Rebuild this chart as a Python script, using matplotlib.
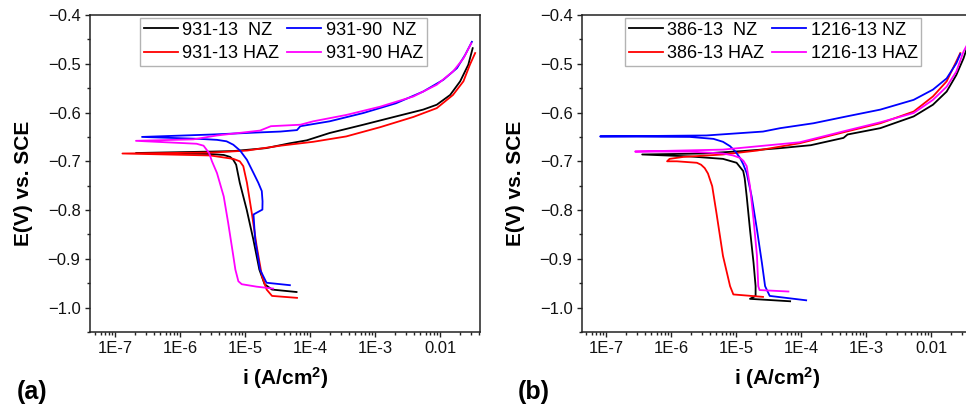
import matplotlib
matplotlib.use("Agg")
import matplotlib.pyplot as plt
from matplotlib.ticker import FixedLocator, LogLocator, NullFormatter, MultipleLocator

plt.rcParams['font.family'] = ['Liberation Sans', 'DejaVu Sans']
plt.rcParams['mathtext.default'] = 'regular'

# ---- Panel (a): alloy 931, nugget zone / heat-affected zone ----
# each curve runs from the cathodic end, through the corrosion potential, to the anodic end
i_931_13_nz = [6.2e-5, 2.6e-5, 2.0e-5, 1.66e-5, 1.34e-5, 1.06e-5, 8.3e-6, 7.3e-6, 6.6e-6, 5.9e-6, 4.7e-6, 2.9e-6, 2.1e-7,
               3.2e-6, 6.6e-6, 2.1e-5, 4.9e-5, 8.9e-5, 2.0e-4, 6.6e-4, 2.1e-3, 5.5e-3, 8.9e-3, 0.0143, 0.0204, 0.0272, 0.0318]
e_931_13_nz = [-0.968, -0.963, -0.952, -0.922, -0.860, -0.799, -0.744, -0.707, -0.697, -0.691, -0.687, -0.685, -0.683,
               -0.680, -0.679, -0.673, -0.663, -0.657, -0.642, -0.625, -0.608, -0.594, -0.584, -0.564, -0.536, -0.502, -0.468]

i_931_13_haz = [6.3e-5, 2.6e-5, 2.15e-5, 1.82e-5, 1.51e-5, 1.27e-5, 1.07e-5, 9.4e-6, 8.3e-6, 6.6e-6, 2.9e-6, 1.3e-7,
                3.2e-6, 1.07e-5, 3.5e-5, 1.12e-4, 3.6e-4, 1.2e-3, 3.9e-3, 8.9e-3, 0.0158, 0.0229, 0.0288, 0.0347]
e_931_13_haz = [-0.980, -0.976, -0.963, -0.935, -0.874, -0.806, -0.744, -0.710, -0.700, -0.695, -0.688, -0.684,
                -0.682, -0.678, -0.668, -0.660, -0.649, -0.630, -0.609, -0.591, -0.564, -0.536, -0.502, -0.478]

i_931_90_nz = [4.9e-5, 2.14e-5, 1.7e-5, 1.43e-5, 1.35e-5, 1.85e-5, 1.86e-5, 1.81e-5, 1.6e-5, 1.35e-5, 1.07e-5, 8.4e-6,
               6.6e-6, 5.2e-6, 3.7e-6, 2.0e-6, 2.6e-7,
               3.2e-6, 1.5e-5, 3.5e-5, 6.3e-5, 7.1e-5, 2.0e-4, 6.6e-4, 2.1e-3, 5.5e-3, 0.0112, 0.0182, 0.0243, 0.0309]
e_931_90_nz = [-0.954, -0.949, -0.922, -0.860, -0.809, -0.799, -0.782, -0.761, -0.744, -0.724, -0.697, -0.678,
               -0.666, -0.659, -0.656, -0.654, -0.650,
               -0.645, -0.641, -0.639, -0.636, -0.628, -0.618, -0.601, -0.581, -0.557, -0.533, -0.509, -0.482, -0.455]

i_931_90_haz = [2.7e-5, 1.5e-5, 8.9e-6, 7.9e-6, 7.1e-6, 6.6e-6, 5.5e-6, 4.7e-6, 3.7e-6, 3.1e-6, 2.8e-6, 2.3e-6, 1.8e-6, 2.1e-7,
                1.6e-6, 3.7e-6, 1.7e-5, 2.5e-5, 7.1e-5, 1.12e-4, 3.6e-4, 1.2e-3, 3.9e-3, 8.9e-3, 0.0158, 0.0229, 0.0302]
e_931_90_haz = [-0.961, -0.957, -0.952, -0.946, -0.922, -0.894, -0.826, -0.772, -0.724, -0.700, -0.683, -0.668, -0.664, -0.658,
                -0.655, -0.647, -0.637, -0.628, -0.625, -0.618, -0.605, -0.588, -0.567, -0.543, -0.516, -0.489, -0.458]

# ---- Panel (b): alloys 386 and 1216 ----
i_386_13_nz = [6.8e-5, 1.64e-5, 2.0e-5, 2.0e-5, 1.86e-5, 1.64e-5, 1.46e-5, 1.36e-5, 1.29e-5, 1.02e-5, 6.3e-6, 1.95e-6, 3.6e-7,
               3.2e-6, 1.26e-5, 4.8e-5, 1.41e-4, 4.5e-4, 5.2e-4, 1.66e-3, 5.4e-3, 0.0107, 0.0174, 0.0245, 0.0316, 0.0363]
e_386_13_nz = [-0.987, -0.982, -0.976, -0.956, -0.908, -0.840, -0.772, -0.735, -0.720, -0.703, -0.695, -0.690, -0.686,
               -0.684, -0.679, -0.673, -0.667, -0.652, -0.645, -0.632, -0.608, -0.584, -0.557, -0.523, -0.489, -0.465]

i_386_13_haz = [2.6e-5, 9.1e-6, 8.1e-6, 6.3e-6, 5.0e-6, 4.3e-6, 3.7e-6, 3.3e-6, 2.9e-6, 2.5e-6, 1.23e-6, 8.7e-7,
                9.5e-7, 1.55e-6, 6.3e-6, 2.1e-5, 9.5e-5, 1.55e-4, 5.0e-4, 1.66e-3, 5.4e-3, 0.0107, 0.0174, 0.0245, 0.0282]
e_386_13_haz = [-0.978, -0.973, -0.956, -0.894, -0.806, -0.751, -0.725, -0.714, -0.707, -0.703, -0.700, -0.700,
                -0.695, -0.691, -0.686, -0.678, -0.663, -0.656, -0.639, -0.622, -0.598, -0.567, -0.536, -0.495, -0.478]

i_1216_13_nz = [1.2e-4, 3.3e-5, 2.8e-5, 2.5e-5, 2.1e-5, 1.74e-5, 1.46e-5, 1.29e-5, 1.15e-5, 9.8e-6, 8.1e-6, 6.3e-6, 4.5e-6,
                1.95e-6, 8.1e-8,
                3.5e-6, 2.6e-5, 4.8e-5, 1.55e-4, 5.0e-4, 1.66e-3, 5.4e-3, 0.0107, 0.0174, 0.0245, 0.0282]
e_1216_13_nz = [-0.985, -0.976, -0.956, -0.908, -0.840, -0.772, -0.724, -0.706, -0.693, -0.680, -0.669, -0.660, -0.654,
                -0.650, -0.649,
                -0.647, -0.639, -0.632, -0.622, -0.608, -0.594, -0.574, -0.553, -0.530, -0.499, -0.480]

i_1216_13_haz = [6.4e-5, 2.3e-5, 2.2e-5, 2.1e-5, 1.86e-5, 1.64e-5, 1.52e-5, 1.46e-5, 1.3e-5, 1.15e-5, 9.0e-6, 6.3e-6,
                 1.95e-6, 2.8e-7,
                 6.3e-6, 9.5e-5, 1.55e-4, 5.0e-4, 1.66e-3, 5.4e-3, 0.0107, 0.0174, 0.0245, 0.0316, 0.0363]
e_1216_13_haz = [-0.967, -0.964, -0.956, -0.894, -0.819, -0.751, -0.725, -0.710, -0.699, -0.693, -0.688, -0.684,
                 -0.680, -0.680,
                 -0.676, -0.661, -0.654, -0.637, -0.620, -0.601, -0.574, -0.547, -0.516, -0.475, -0.460]

labels_a = ['931-13  NZ', '931-13 HAZ', '931-90  NZ', '931-90 HAZ']
labels_b = ['386-13  NZ', '386-13 HAZ', '1216-13 NZ', '1216-13 HAZ']
colors = ['#000000', '#ff0000', '#0000ff', '#ff00ff']

x_ticks = [1e-7, 1e-6, 1e-5, 1e-4, 1e-3, 1e-2]
x_tick_labels = ['1E-7', '1E-6', '1E-5', '1E-4', '1E-3', '0.01']
y_ticks = [-0.4, -0.5, -0.6, -0.7, -0.8, -0.9, -1.0]
y_tick_labels = ['\u22120.4', '\u22120.5', '\u22120.6', '\u22120.7', '\u22120.8', '\u22120.9', '\u22121.0']

fig = plt.figure(figsize=(9.66, 4.12), dpi=100)
fig.patch.set_facecolor('white')

W, H = 966.0, 412.0
ax_w = 390 / W
ax_b = (H - 332) / H
ax_h = 317 / H
ax_a = fig.add_axes([90 / W, ax_b, ax_w, ax_h])
ax_bb = fig.add_axes([582 / W, ax_b, ax_w, ax_h])


def style_axes(ax, xlim):
    ax.set_xscale('log')
    ax.set_xlim(*xlim)
    ax.set_ylim(-1.05, -0.4)
    ax.xaxis.set_major_locator(FixedLocator(x_ticks))
    ax.set_xticklabels(x_tick_labels)
    ax.xaxis.set_minor_locator(LogLocator(base=10, subs=range(2, 10), numticks=20))
    ax.xaxis.set_minor_formatter(NullFormatter())
    ax.yaxis.set_major_locator(FixedLocator(y_ticks))
    ax.set_yticklabels(y_tick_labels)
    ax.yaxis.set_minor_locator(MultipleLocator(0.05))
    ax.tick_params(which='both', direction='out', top=False, right=False, color='#222222', width=1.0)
    ax.tick_params(which='major', length=3.8, labelsize=12, pad=3, labelcolor='#111111')
    ax.tick_params(which='minor', length=2.2)
    for sp in ax.spines.values():
        sp.set_linewidth(1.1)
        sp.set_color('#222222')
    ax.set_xlabel('i (A/cm$^{2}$)', fontsize=15, fontweight='bold')
    ax.set_ylabel('E(V) vs. SCE', fontsize=15, fontweight='bold')
    ax.xaxis.set_label_coords(0.5, -0.105)
    ax.yaxis.set_label_coords(-0.147, 0.47)


style_axes(ax_a, (4.12e-8, 0.0412))
style_axes(ax_bb, (4.27e-8, 0.0427))

series_a = [(i_931_13_nz, e_931_13_nz), (i_931_13_haz, e_931_13_haz),
            (i_931_90_nz, e_931_90_nz), (i_931_90_haz, e_931_90_haz)]
series_b = [(i_386_13_nz, e_386_13_nz), (i_386_13_haz, e_386_13_haz),
            (i_1216_13_nz, e_1216_13_nz), (i_1216_13_haz, e_1216_13_haz)]

for ax, series, labels, lx in [(ax_a, series_a, labels_a, 140), (ax_bb, series_b, labels_b, 625)]:
    handles = []
    for (ii, ee), lab, c in zip(series, labels, colors):
        h, = ax.plot(ii, ee, color=c, lw=1.3, label=lab, solid_joinstyle='round')
        handles.append(h)
    leg = ax.legend(handles=handles, ncol=2, loc='upper left',
                    bbox_to_anchor=(lx / W, 1 - 18 / H), bbox_transform=fig.transFigure,
                    fontsize=13, frameon=True, fancybox=False, edgecolor='#a0a0a0',
                    borderaxespad=0, borderpad=0.2, handlelength=1.9, handletextpad=0.25,
                    columnspacing=0.4, labelspacing=0.38)
    leg.get_frame().set_linewidth(1.0)

fig.text(17 / W, 1 - 392 / H, '(a)', fontsize=18, fontweight='bold', ha='left', va='center')
fig.text(518 / W, 1 - 392 / H, '(b)', fontsize=18, fontweight='bold', ha='left', va='center')

fig.savefig('out.png', dpi=100, facecolor='white')
